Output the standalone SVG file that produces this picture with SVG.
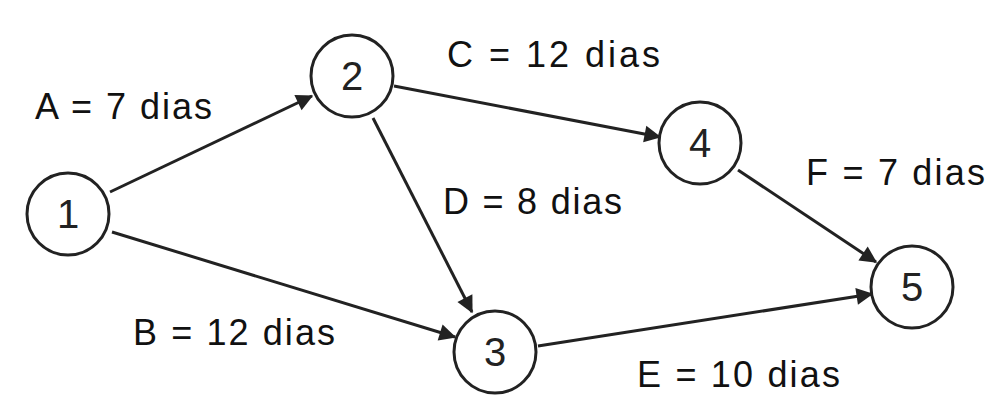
<svg xmlns="http://www.w3.org/2000/svg" width="992" height="416" viewBox="0 0 992 416">
<style>
.n{fill:#fff;stroke:#222;stroke-width:3}
.t{font-family:"Liberation Sans",Arial,sans-serif;font-size:40px;fill:#222;text-anchor:middle}
.l{font-family:"Liberation Sans",Arial,sans-serif;font-size:36px;fill:#111}
.e{stroke:#222;stroke-width:3;fill:none;marker-end:url(#a)}
</style>
<defs><marker id="a" viewBox="0 0 10 10" refX="9" refY="5" markerWidth="7" markerHeight="7" markerUnits="userSpaceOnUse" orient="auto" style="overflow:visible"><path d="M0,0L10,5L0,10z" fill="#222" transform="scale(2.4) translate(-5.5,-2.9)"/></marker></defs>
<rect width="992" height="416" fill="#fff"/>
<g id="connectors">
<line class="e" x1="110" y1="192" x2="312" y2="96"/>
<line class="e" x1="112" y1="232" x2="455" y2="337"/>
<line class="e" x1="373" y1="118" x2="472" y2="312"/>
<line class="e" x1="394" y1="86" x2="660" y2="137"/>
<line class="e" x1="738" y1="170" x2="876" y2="262"/>
<line class="e" x1="538" y1="346" x2="872" y2="294"/>
</g>
<g id="n1"><circle class="n" cx="68" cy="214" r="41"/><text class="t" x="68" y="228">1</text></g>
<g id="n2"><circle class="n" cx="352" cy="76" r="41"/><text class="t" x="352" y="90">2</text></g>
<g id="n3"><circle class="n" cx="495" cy="352" r="41"/><text class="t" x="495" y="366">3</text></g>
<g id="n4"><circle class="n" cx="700" cy="143" r="41"/><text class="t" x="700" y="157">4</text></g>
<g id="n5"><circle class="n" cx="912" cy="287" r="41"/><text class="t" x="912" y="301">5</text></g>
<g id="labels">
<text class="l" x="35" y="119" textLength="177">A = 7 dias</text>
<text class="l" x="447" y="67" textLength="213">C = 12 dias</text>
<text class="l" x="443" y="214" textLength="179">D = 8 dias</text>
<text class="l" x="806" y="185" textLength="179">F = 7 dias</text>
<text class="l" x="133" y="345" textLength="202">B = 12 dias</text>
<text class="l" x="637" y="387" textLength="203">E = 10 dias</text>
</g>
</svg>
